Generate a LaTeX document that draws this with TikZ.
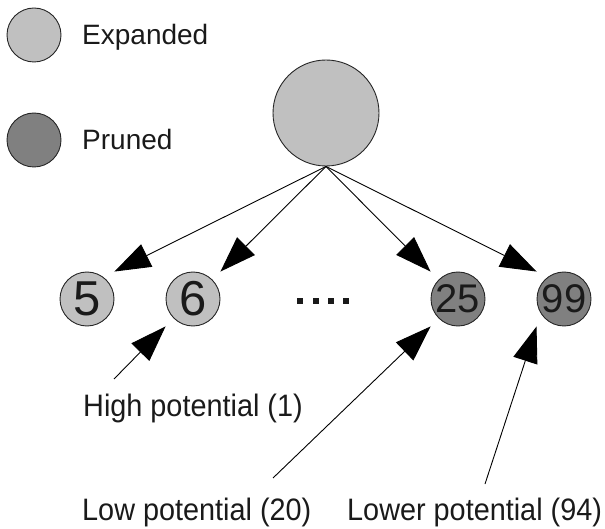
\documentclass[tikz,border=0pt]{standalone}
\usepackage{fontspec}
\setmainfont{Liberation Sans}
\newfontfamily\narrowsans[FakeStretch=0.93]{Liberation Sans}
\usetikzlibrary{arrows.meta}
\definecolor{expfill}{HTML}{C0C0C0}
\definecolor{prunefill}{HTML}{808080}
\definecolor{rim}{HTML}{262626}
\definecolor{ink}{HTML}{1A1A1A}

\begin{document}
\begin{tikzpicture}[x=1pt,y=-1pt,
  state/.style={circle, draw=rim, line width=0.9pt, minimum size=54pt, inner sep=0pt, text=ink},
  expanded/.style={state, fill=expfill},
  pruned/.style={state, fill=prunefill},
  onedigit/.style={font=\fontsize{49}{49}\selectfont},
  twodigit/.style={font=\fontsize{40}{40}\selectfont},
  txt/.style={font=\fontsize{28}{34}\selectfont, anchor=base west, inner sep=0pt, text=ink},
  note/.style={txt, font=\narrowsans\fontsize{31}{36}\selectfont},
  link/.style={line width=0.9pt, draw=black, -{Triangle[length=36pt,width=25pt]}}]
\useasboundingbox (0,0) rectangle (605,529);

% legend
\node[expanded] (legexp) at (34,35) {};
\node[txt] (legexptxt) at (82,45) {Expanded};
\node[pruned] (legpr) at (34,140) {};
\node[txt] (legprtxt) at (82,150) {Pruned};

% tree
\node[expanded, minimum size=106pt] (root) at (326,113) {};
\node[expanded, onedigit] (c5) at (87,299) {5};
\node[expanded, onedigit] (c6) at (193,299) {6};
\node[pruned, twodigit] (c25) at (458,299) {25};
\node[pruned, twodigit] (c99) at (564,299) {99};

% elided children
\foreach \x in {300,315.5,330.5,346}
  \fill[ink] (\x-3,298) rectangle (\x+3,304);

\draw[link] (root.south) -- (c5.north -| c5.east);
\draw[link] (root.south) -- (c6.north -| c6.east);
\draw[link] (root.south) -- (c25.north -| c25.west);
\draw[link] (root.south) -- (c99.north -| c99.west);

% annotations
\node[note] (hi) at (83,416) {High potential (1)};
\node[note] (lo) at (82,520) {Low potential (20)};
\node[note] (lower) at (347,520) {Lower potential (94)};
\coordinate (hitail) at (114,379);
\coordinate (lotail) at (273,478);
\coordinate (lowertail) at (485,484);
\draw[link] (hitail) -- (c6.south -| c6.west);
\draw[link] (lotail) -- (c25.south -| c25.west);
\draw[link] (lowertail) -- (c99.south -| c99.west);
\end{tikzpicture}
\end{document}
